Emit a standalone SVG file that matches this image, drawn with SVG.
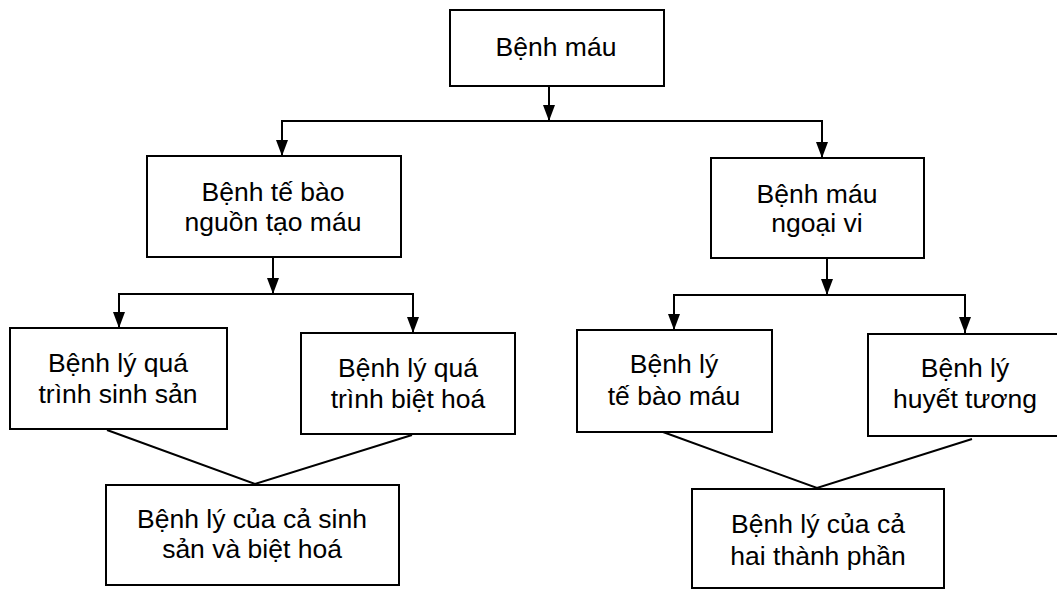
<svg xmlns="http://www.w3.org/2000/svg" width="1057" height="589" viewBox="0 0 1057 589">
  <defs>
    <marker id="arrow" viewBox="0 0 16 12" refX="16" refY="6" markerWidth="16" markerHeight="12" markerUnits="userSpaceOnUse" orient="auto">
      <path d="M0,0 L16,6 L0,12 z" fill="#000"/>
    </marker>
    <style>
      .box { fill: #fff; stroke: #000; stroke-width: 2; }
      .lbl { font-family: "Liberation Sans", Arial, sans-serif; font-size: 26.5px; fill: #000; text-anchor: middle; }
      .wire { fill: none; stroke: #000; stroke-width: 2; }
      .arr { marker-end: url(#arrow); }
    </style>
  </defs>
  <rect width="1057" height="589" fill="#fff"/>

  <!-- connectors -->
  <g id="connectors">
    <line class="wire arr" x1="549" y1="86" x2="549" y2="121"/>
    <line class="wire" x1="281" y1="121" x2="823" y2="121"/>
    <line class="wire arr" x1="282" y1="121" x2="282" y2="156"/>
    <line class="wire arr" x1="822" y1="121" x2="822" y2="158"/>

    <line class="wire arr" x1="273" y1="257" x2="273" y2="294"/>
    <line class="wire" x1="118" y1="294" x2="414" y2="294"/>
    <line class="wire arr" x1="119" y1="294" x2="119" y2="328"/>
    <line class="wire arr" x1="413" y1="294" x2="413" y2="333"/>

    <line class="wire arr" x1="827" y1="258" x2="827" y2="295"/>
    <line class="wire" x1="673" y1="295" x2="966" y2="295"/>
    <line class="wire arr" x1="674" y1="295" x2="674" y2="330"/>
    <line class="wire arr" x1="965" y1="295" x2="965" y2="333"/>

    <polyline class="wire" points="107,430 255,484 412,435"/>
    <polyline class="wire" points="663,432 817,488 972,439"/>
  </g>

  <g id="benh-mau">
    <rect class="box" x="450" y="10" width="214" height="76"/>
    <text class="lbl" x="556" y="56">Bệnh máu</text>
  </g>

  <g id="te-bao-nguon">
    <rect class="box" x="147" y="156" width="254" height="101"/>
    <text class="lbl" x="273" y="201">Bệnh tế bào</text>
    <text class="lbl" x="273" y="231">nguồn tạo máu</text>
  </g>

  <g id="mau-ngoai-vi">
    <rect class="box" x="711" y="158" width="213" height="100"/>
    <text class="lbl" x="817" y="203">Bệnh máu</text>
    <text class="lbl" x="817" y="232">ngoại vi</text>
  </g>

  <g id="sinh-san">
    <rect class="box" x="10" y="328" width="217" height="101"/>
    <text class="lbl" x="118" y="372">Bệnh lý quá</text>
    <text class="lbl" x="118" y="403">trình sinh sản</text>
  </g>

  <g id="biet-hoa">
    <rect class="box" x="301" y="333" width="214" height="101"/>
    <text class="lbl" x="408" y="377">Bệnh lý quá</text>
    <text class="lbl" x="408" y="408">trình biệt hoá</text>
  </g>

  <g id="te-bao-mau">
    <rect class="box" x="577" y="330" width="195" height="102"/>
    <text class="lbl" x="674" y="373">Bệnh lý</text>
    <text class="lbl" x="674" y="405">tế bào máu</text>
  </g>

  <g id="huyet-tuong">
    <rect class="box" x="868" y="334" width="196" height="102"/>
    <text class="lbl" x="965" y="377">Bệnh lý</text>
    <text class="lbl" x="965" y="408">huyết tương</text>
  </g>

  <g id="sinh-san-biet-hoa">
    <rect class="box" x="106" y="485" width="293" height="100"/>
    <text class="lbl" x="252" y="528">Bệnh lý của cả sinh</text>
    <text class="lbl" x="252" y="558">sản và biệt hoá</text>
  </g>

  <g id="hai-thanh-phan">
    <rect class="box" x="692" y="489" width="252" height="99"/>
    <text class="lbl" x="818" y="533">Bệnh lý của cả</text>
    <text class="lbl" x="818" y="565">hai thành phần</text>
  </g>
</svg>
